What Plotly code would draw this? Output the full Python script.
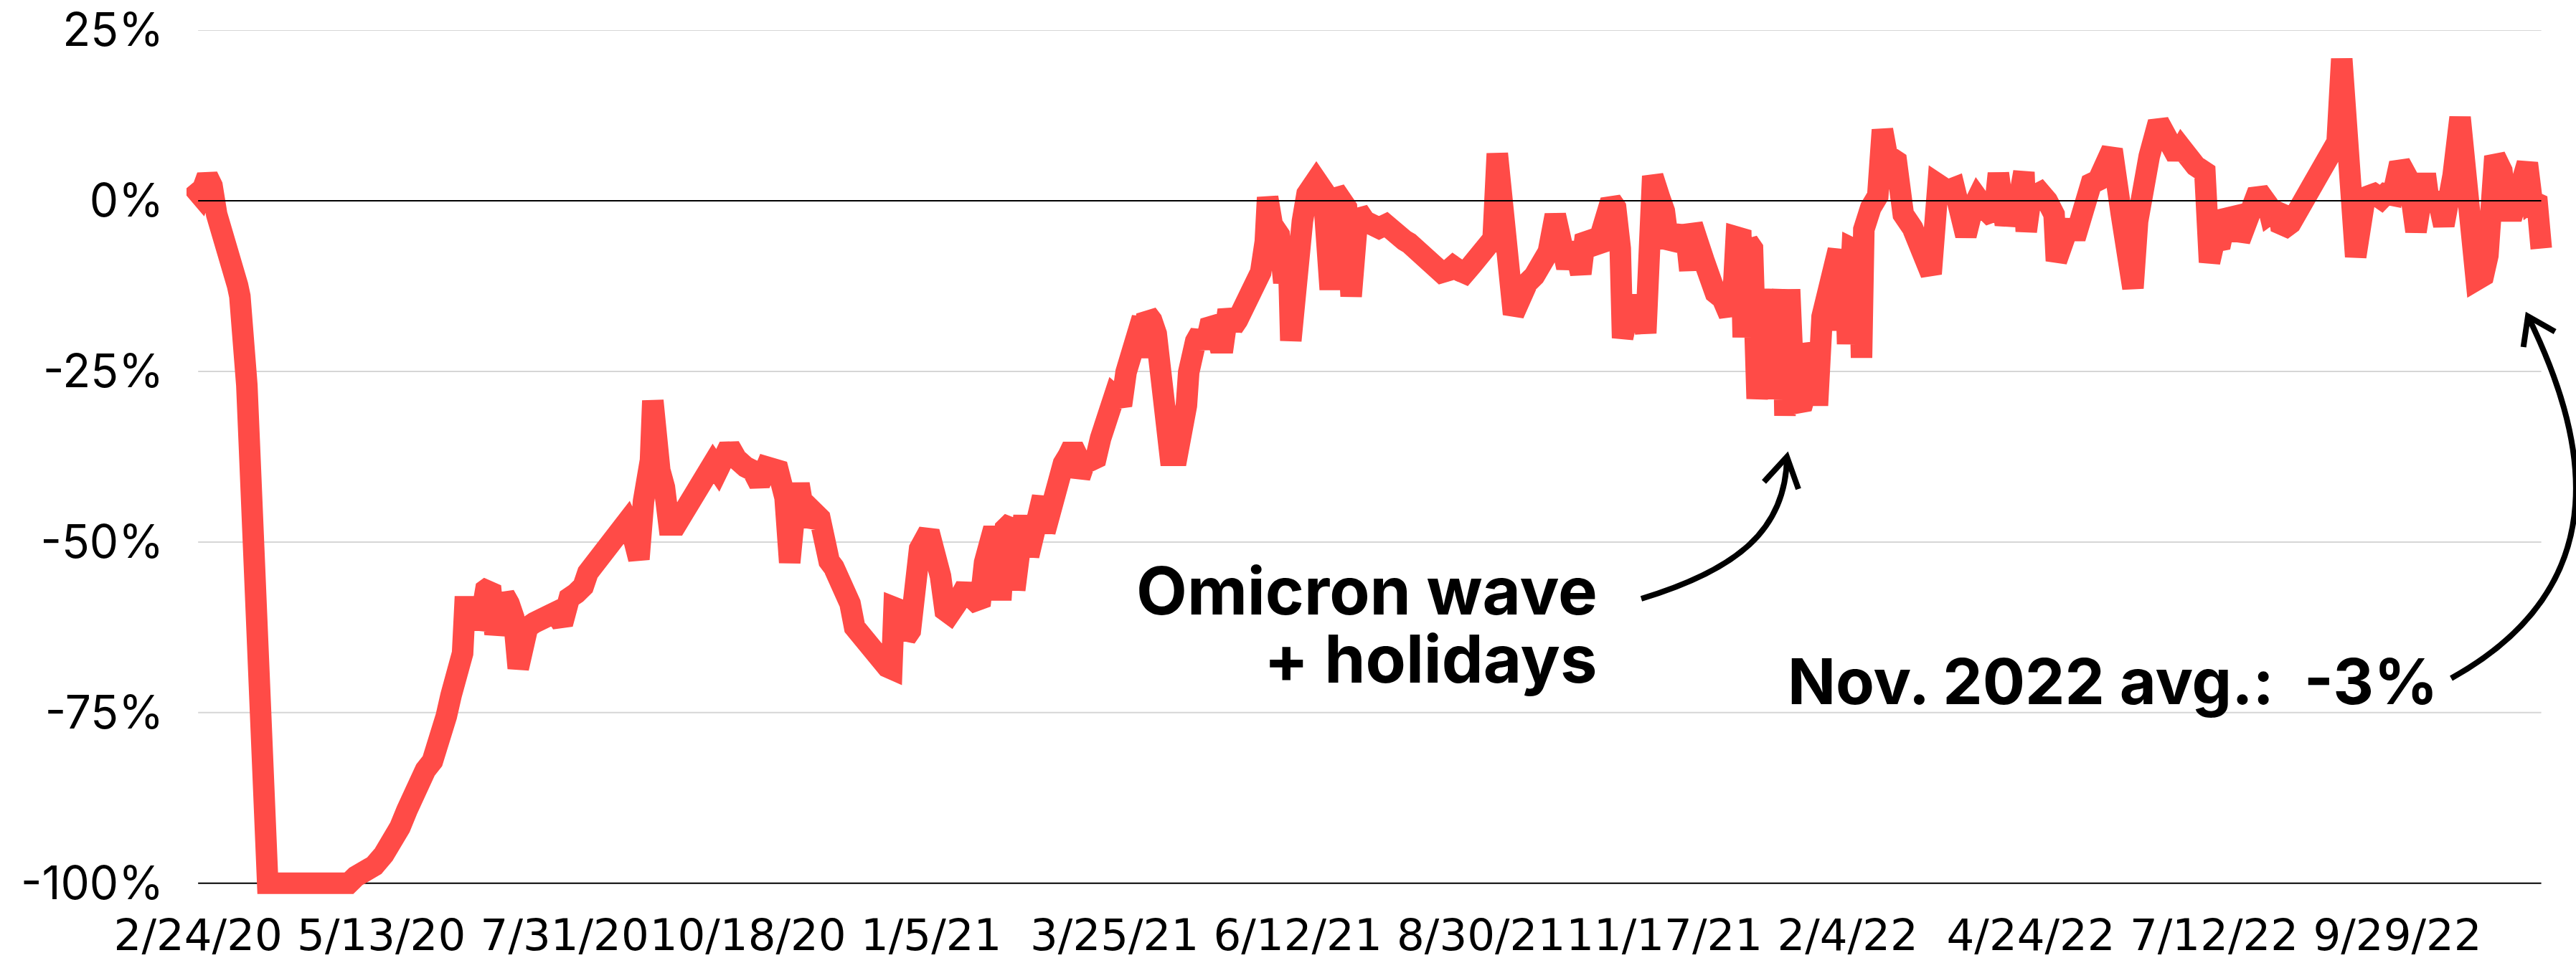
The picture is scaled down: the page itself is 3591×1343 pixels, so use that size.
import pandas as pd
import plotly.graph_objects as go

# ---------------- data ----------------
start_date = "2020-02-24"
end_date = "2022-11-30"

# days after 2020-02-24
day_offsets = [
    -3, 1, 4, 6, 8, 10, 12, 14, 16, 17, 18, 19, 20, 21, 22, 23, 24, 25, 26, 27, 28, 29, 30,
    40, 50, 60, 65, 68, 72, 76, 80, 84, 87, 90, 92, 94, 96, 98, 101, 103, 105, 107, 109, 111,
    113, 114, 115, 118, 120, 122, 124, 126, 128, 130, 132, 134, 136, 138, 140, 142, 145, 148,
    151, 154, 157, 160, 163, 166, 168, 170, 172, 175, 177, 179, 182, 185, 187, 190, 192, 194,
    195, 196, 197, 199, 201, 203, 206, 208, 210, 213, 216, 219, 222, 224, 227, 229, 232, 234,
    236, 239, 242, 245, 248, 250, 253, 255, 257, 259, 262, 265, 268, 270, 272, 274, 276, 278,
    281, 283, 285, 288, 291, 294, 297, 299, 300, 303, 305, 307, 309, 311, 315, 318, 320, 322,
    324, 327, 329, 331, 333, 335, 337, 339, 341, 343, 345, 346, 348, 351, 352, 354, 356, 358,
    360, 362, 364, 365, 367, 369, 371, 373, 375, 377, 379, 380, 382, 384, 387, 389, 391, 393,
    395, 397, 398, 400, 403, 405, 407, 408, 409, 411, 413, 414, 416, 418, 419, 422, 424, 426,
    427, 428, 430, 432, 434, 436, 438, 440, 442, 444, 446, 448, 450, 452, 454, 456, 458, 460,
    461, 463, 466, 468, 470, 471, 473, 476, 478, 482, 485, 488, 490, 493, 495, 497, 500, 503,
    506, 509, 512, 515, 517, 520, 522, 525, 528, 530, 532, 534, 536, 539, 541, 544, 546, 549,
    551, 553, 556, 558, 560, 567, 570, 573, 576, 579, 582, 585, 587, 588, 590, 593, 596, 598,
    601, 604, 605, 607, 609, 611, 613, 614, 616, 618, 620, 622, 624, 627, 630, 632, 634, 636,
    639, 641, 643, 644, 646, 649, 652, 654, 657, 660, 662, 663, 665, 666, 668, 670, 672, 675,
    677, 679, 681, 683, 684, 686, 688, 691, 693, 695, 697, 698, 700, 703, 705, 707, 708, 710,
    711, 713, 716, 717, 718, 721, 724, 726, 728, 732, 735, 739, 743, 747, 750, 754, 757, 759,
    762, 765, 767, 771, 774, 776, 779, 782, 784, 787, 788, 790, 794, 797, 800, 801, 804, 807,
    809, 811, 814, 816, 819, 825, 829, 831, 834, 836, 838, 841, 845, 848, 851, 853, 855, 858,
    861, 865, 867, 869, 872, 874, 877, 879, 880, 883, 885, 888, 892, 893, 897, 898, 902, 905,
    908, 911, 914, 918, 922, 924, 930, 934, 938, 941, 943, 946, 949, 953, 956, 960, 962, 965,
    968, 972, 975, 982, 985, 987, 990, 993, 995, 998, 1000, 1004, 1006, 1008, 1010,
]

# year-over-year change, %
yoy_pct = [
    2.4, 0.8, 3.6, 2.2, -2, -4, -5.8, -7.5, -9.5, -12.4, -14, -17, -21, -27, -35, -45, -56, -68, -79, -89, -96, -99, -100,
    -100, -100, -100, -100, -99, -98.3, -97.4, -95.8, -94.2, -91.8, -89.3, -87.6, -86.1, -84.6, -83.4, -82.1, -80.3, -78.3, -75.5, -72.5, -69.8,
    -67.5, -66.3, -59.5, -59.5, -62.5, -61, -57, -56.5, -63.5, -60.5, -57.8, -59, -61, -68.5, -63.5, -62.5, -61.8, -61.5,
    -60.8, -60.3, -62, -58.2, -57.5, -56.5, -54.5, -53.5, -52.8, -51.2, -49.8, -49, -47.8, -47, -48.5, -52.5, -44, -40,
    -38, -29.3, -38, -39.5, -42, -47.5, -47.5, -46.5, -44.5, -43, -41.3, -40.2, -38.5, -39.5, -37.5, -36, -37.8, -39,
    -39, -39.5, -41.5, -39, -39.5, -39.5, -43.5, -53, -46, -41.5, -47.5, -45.5, -46.5, -51.4, -52.8, -53.7, -55, -56.5,
    -59, -62.5, -63.5, -64.5, -65.8, -67.5, -68.3, -68.6, -59.6, -60, -64, -63, -57, -51, -48.5, -52, -55, -60,
    -60.5, -59, -57, -56.5, -58, -59.5, -59.3, -53, -50, -48, -50.5, -58.5, -48, -47, -57, -50, -46.2, -52,
    -47.4, -45, -43.4, -48.5, -45.5, -43, -39.5, -38.5, -37.4, -36, -37.4, -40.5, -38.5, -37.7, -37.7, -34.8, -32, -29.7,
    -28.6, -29.2, -30, -25.1, -21.7, -18.5, -17.2, -23, -16.6, -17.5, -19.5, -22.3, -27.4, -33.7, -37.3, -37.3, -34, -30,
    -25.1, -21.1, -20.6, -19.4, -21.5, -18.5, -18.3, -20.8, -20.8, -16, -18.5, -17.5, -16.2, -14.5, -13.5, -12, -10.5, -6,
    0.5, -3.5, -5, -12, -8, -20.5, -8, -3, 1, 3, 1.5, -13, 1.5, 0.5, -1, -14, -1.5, -3,
    -3.5, -4, -3.5, -4.5, -5.7, -5.8, -6.2, -7.2, -8.1, -9, -9.8, -10.2, -10.5, -10.2, -9.6, -10.3, -10.6, -9.4,
    -8.7, -7.2, -6.5, -7, 6.9, -16.6, -13.5, -12, -11, -9.5, -7.5, -2.1, -5.5, -6.8, -9.8, -6.2, -10.7, -5.1,
    -6, -7.2, -4.5, -1.2, 0, -1, -7, -20.1, -16, -14, -16.9, -14.5, -19.4, 3.6, 0.4, -1.5, -6.8, -5.8,
    -5.8, -3.8, -10.2, -3.5, -5.6, -8.7, -12.4, -13.5, -14.3, -16.7, -11.7, -5.3, -5.5, -20, -6, -7, -29, -13,
    -13, -29, -13, -13, -31.5, -13, -29, -30.4, -28, -21, -23, -30, -17, -11, -7.7, -7.2, -19, -7.5,
    -21, -7, -7.5, -23, -4.2, -1, 0.7, 10.4, 6.7, 5.8, -2, -4, -7, -10.7, 2.4, 1.5, 1.9, -0.4,
    -5.1, -1, 0.4, -1.5, -2.5, 4, -3.5, 0.5, -1.5, 4.2, -4.5, 0.5, 1.2, 0, -2, -8.8, -6.5, -3,
    -5.5, -3.3, 0.5, 2.5, 3, 7.5, -2, -8.5, -12.8, -3, 2, 6.5, 11.5, 9.5, 8.3, 6.5, 7.7, 6,
    5.1, 4.2, -9, -6, -5.8, -2.6, -2.5, -2.2, -5.8, -3, -0.5, 1.4, -0.5, -1.9, -0.9, -4.3, -3.3, -1.5,
    0, 2.5, 5, 7.5, 8.6, 20.8, -8.2, 0.5, 1, 0.3, 1, 0.8, 5.5, 3, -4.5, 3.9, -1.2, 1,
    -3.6, 3.7, 12.2, -11.6, -11, -8, 6.5, 4.4, -1.5, -1.5, 2, 5.5, 0, 0.5, -7,
]

x_tick_labels = ["2/24/20", "5/13/20", "7/31/20", "10/18/20", "1/5/21", "3/25/21", "6/12/21",
                 "8/30/21", "11/17/21", "2/4/22", "4/24/22", "7/12/22", "9/29/22"]
y_tick_values = [25, 0, -25, -50, -75, -100]
y_tick_labels = ["25%", "0%", "-25%", "-50%", "-75%", "-100%"]
grid_values = [25, -25, -50, -75]

omicron_lines = ["Omicron wave", "+ holidays"]
avg_label = "Nov. 2022 avg.:\u00a0 -3%"

# ---------------- figure ----------------
start_ts = pd.Timestamp(start_date)
end_ts = pd.Timestamp(end_date)
dates = start_ts + pd.to_timedelta(day_offsets, unit="D")
x_tick_dates = pd.to_datetime(x_tick_labels, format="%m/%d/%y")

RED = "#FF4B47"
FONT = "Inter"
GRID = "#D6D6D6"

fig = go.Figure()
fig.add_trace(go.Scatter(
    x=dates, y=yoy_pct, mode="lines",
    line=dict(color=RED, width=30),
    cliponaxis=False, hoverinfo="skip", showlegend=False,
))

# small padding around the data window so the thick stroke is not cut
x_range = [start_ts - pd.Timedelta(days=5), end_ts + pd.Timedelta(days=6)]

fig.update_layout(
    width=3591, height=1343,
    margin=dict(l=260, r=29, t=42, b=95, pad=0),
    paper_bgcolor="white", plot_bgcolor="white",
    showlegend=False,
    font=dict(family=FONT, color="black"),
)
fig.update_xaxes(
    type="date", range=x_range, automargin=False,
    tickmode="array", tickvals=x_tick_dates, ticktext=x_tick_labels,
    tickangle=0,
    showgrid=False, zeroline=False, ticks="", showline=False,
    tickfont=dict(family="DejaVu Sans", size=61, color="black"),
    ticklabelstandoff=15,
)
fig.update_yaxes(
    range=[-101.7, 25], automargin=False,
    tickmode="array", tickvals=y_tick_values, ticktext=y_tick_labels,
    showgrid=False, zeroline=False, ticks="", showline=False,
    tickfont=dict(family=FONT, size=64, color="black"),
    ticklabelstandoff=31,
)

shapes = []
for g in grid_values:
    shapes.append(dict(type="line", xref="x", x0=start_ts, x1=end_ts, yref="y", y0=g, y1=g,
                       line=dict(color=GRID, width=2), layer="below"))
# bottom axis line at -100 (under the data line)
shapes.append(dict(type="line", xref="x", x0=start_ts, x1=end_ts, yref="y", y0=-100, y1=-100,
                   line=dict(color="black", width=2), layer="below"))
# zero reference line, drawn above the data line
shapes.append(dict(type="line", xref="x", x0=start_ts, x1=end_ts, yref="y", y0=0, y1=0,
                   line=dict(color="black", width=2), layer="above"))
# Omicron arrow
shapes.append(dict(type="path", xref="paper", yref="paper",
                   path="M 0.61417,0.34245 C 0.65415,0.37562 0.67535,0.42123 0.67565,0.50663",
                   line=dict(color="black", width=8), layer="above"))
shapes.append(dict(type="path", xref="paper", yref="paper",
                   path="M 0.66596,0.47761 L 0.67565,0.50663 L 0.68050,0.46932",
                   line=dict(color="black", width=8), layer="above"))
# Nov. average arrow
shapes.append(dict(type="path", xref="paper", yref="paper",
                   path="M 0.95609,0.25041 C 1.02907,0.36153 1.01211,0.53648 0.98849,0.66915",
                   line=dict(color="black", width=8), layer="above"))
shapes.append(dict(type="path", xref="paper", yref="paper",
                   path="M 0.98658,0.63350 L 0.98849,0.66915 L 0.99991,0.65133",
                   line=dict(color="black", width=8), layer="above"))
fig.update_layout(shapes=shapes)

fig.add_annotation(text=omicron_lines[0], xref="paper", yref="paper", x=0.5963, y=0.3524,
                   xanchor="right", yanchor="middle", showarrow=False,
                   font=dict(family=FONT, size=92, color="black", weight="bold"))
fig.add_annotation(text=omicron_lines[1], xref="paper", yref="paper", x=0.5963, y=0.2736,
                   xanchor="right", yanchor="middle", showarrow=False,
                   font=dict(family=FONT, size=92, color="black", weight="bold"))
fig.add_annotation(text=avg_label, xref="paper", yref="paper", x=0.6754, y=0.2471,
                   xanchor="left", yanchor="middle", showarrow=False,
                   font=dict(family=FONT, size=88, color="black", weight="bold"))

fig.write_html("out.html", config={"displayModeBar": False},
               post_script="document.body.style.margin='0px';")
